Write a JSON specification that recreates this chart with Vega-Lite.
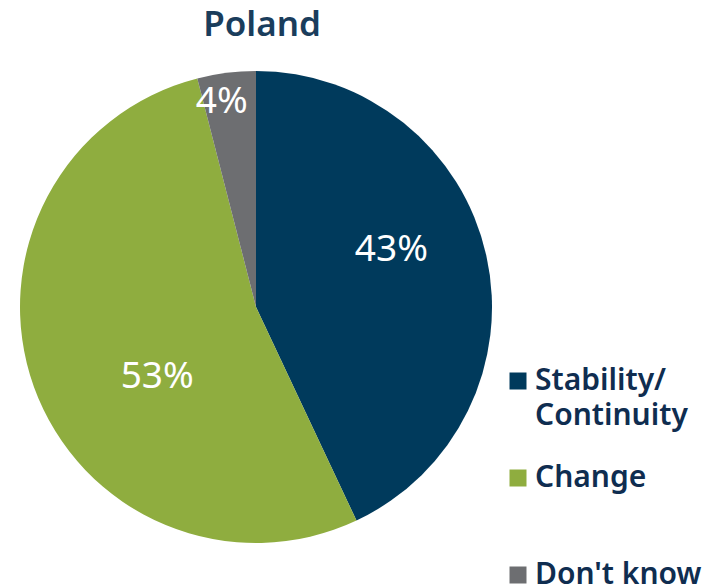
{
  "$schema": "https://vega.github.io/schema/vega-lite/v6.json",
  "autosize": "none",
  "width": 472,
  "height": 472,
  "padding": {"left": 20, "top": 71, "right": 228, "bottom": 45},
  "background": "white",
  "config": {"view": {"stroke": null}, "font": "Noto Sans", "style": {"guide-label": {"lineHeight": 35}}},
  "title": {"text": "Poland", "fontSize": 35, "fontWeight": 600, "color": "#1A3D5C", "anchor": "middle", "offset": 28, "dx": 6, "font": "Noto Sans"},
  "data": {"values": [
    {"answer": "Stability/ Continuity", "share": 0.43, "rank": 1},
    {"answer": "Change", "share": 0.53, "rank": 2},
    {"answer": "Don't know", "share": 0.04, "rank": 3}
  ]},
  "encoding": {
    "theta": {"field": "share", "type": "quantitative", "stack": true},
    "order": {"field": "rank", "type": "quantitative"},
    "color": {
      "field": "answer", "type": "nominal",
      "scale": {"domain": ["Stability/ Continuity", "Change", "Don't know"], "range": ["#003A5C", "#8FAD3F", "#6D6E71"]},
      "legend": {
        "title": null, "orient": "none", "legendX": 483, "legendY": 295,
        "symbolType": "square", "symbolSize": 289, "symbolStrokeWidth": 0,
        "labelFont": "Noto Sans", "labelFontWeight": 600, "labelFontSize": 30, "labelColor": "#0F2D50",
        "labelLimit": 300, "labelOffset": 2, "padding": 0, "rowPadding": 32, "gridAlign": "all",
        "labelExpr": "datum.label == 'Stability/ Continuity' ? ['Stability/', 'Continuity'] : datum.label"
      }
    }
  },
  "layer": [
    {"mark": {"type": "arc", "stroke": null}},
    {
      "mark": {"type": "text", "radius": 147, "thetaOffset": -0.18, "fontSize": 37, "fontWeight": "normal", "font": "Noto Sans"},
      "encoding": {
        "text": {"condition": {"test": "datum.answer == 'Stability/ Continuity'", "field": "share", "type": "quantitative", "format": ".0%"}, "value": ""},
        "color": {"value": "white"}
      }
    },
    {
      "mark": {"type": "text", "radius": 121, "thetaOffset": -0.27, "fontSize": 37, "fontWeight": "normal", "font": "Noto Sans"},
      "encoding": {
        "text": {"condition": {"test": "datum.answer == 'Change'", "field": "share", "type": "quantitative", "format": ".0%"}, "value": ""},
        "color": {"value": "white"}
      }
    },
    {
      "mark": {"type": "text", "radius": 208, "thetaOffset": -0.04, "fontSize": 37, "fontWeight": "normal", "font": "Noto Sans"},
      "encoding": {
        "text": {"condition": {"test": "datum.answer == \"Don't know\"", "field": "share", "type": "quantitative", "format": ".0%"}, "value": ""},
        "color": {"value": "white"}
      }
    }
  ]
}
